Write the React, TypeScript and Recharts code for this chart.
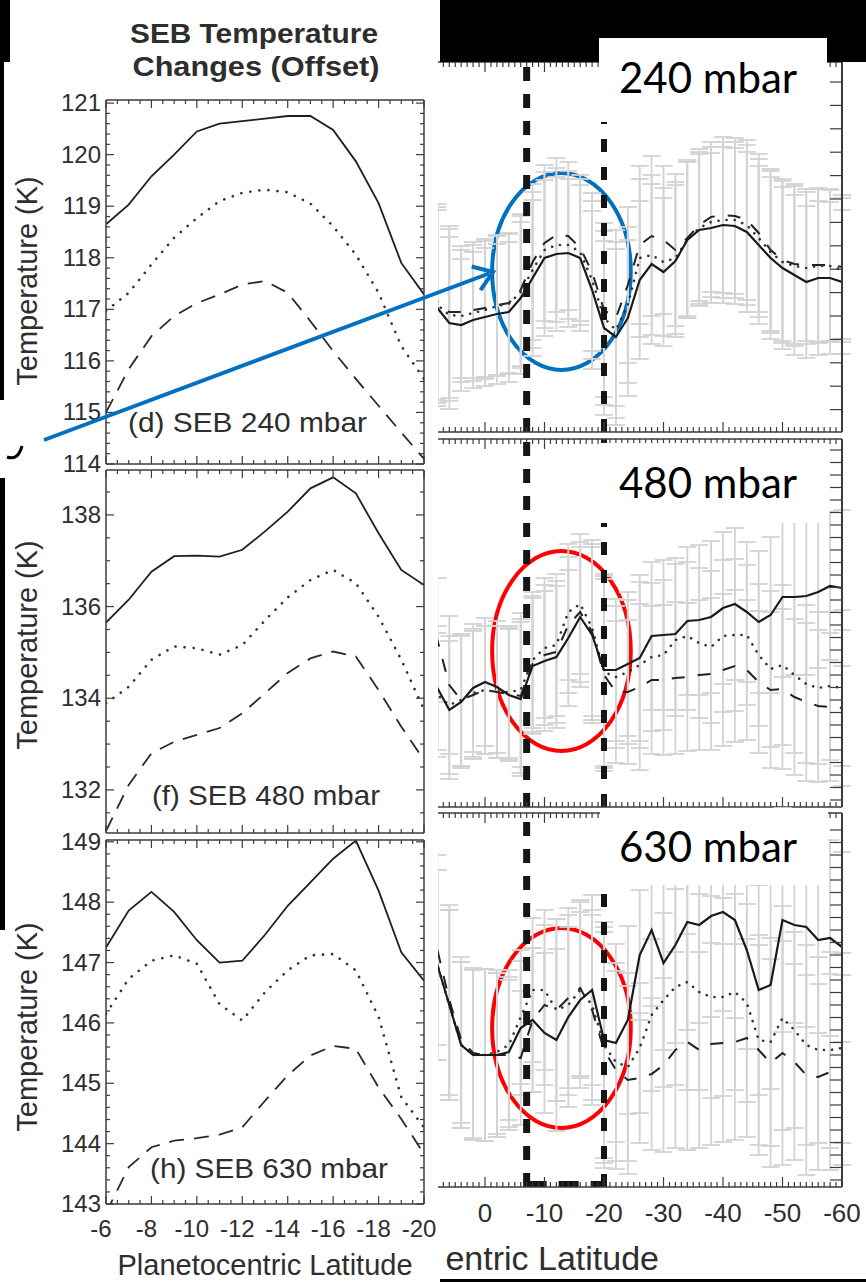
import React from 'react'
import { LineChart, Line, XAxis, YAxis, ErrorBar, ReferenceLine, ReferenceArea } from 'recharts'

// ---- left column: SEB temperature changes, latitude -6 .. -20 (1 deg steps)
const latLeft = [-6, -7, -8, -9, -10, -11, -12, -13, -14, -15, -16, -17, -18, -19, -20]

const d240Solid = [118.65, 119.03, 119.58, 120.0, 120.45, 120.6, 120.65, 120.7, 120.75, 120.75, 120.48, 119.87, 119.06, 117.9, 117.29]
const d240Dotted = [116.97, 117.32, 117.87, 118.39, 118.77, 119.1, 119.26, 119.32, 119.27, 119.05, 118.61, 118.06, 117.32, 116.29, 115.65]
const d240Dashed = [115.0, 115.84, 116.48, 116.87, 117.12, 117.29, 117.48, 117.55, 117.32, 116.77, 116.19, 115.65, 115.13, 114.61, 114.1]

const f480Solid = [135.65, 136.15, 136.76, 137.1, 137.11, 137.09, 137.24, 137.64, 138.07, 138.58, 138.82, 138.47, 137.6, 136.8, 136.47]
const f480Dotted = [133.89, 134.25, 134.84, 135.13, 135.09, 134.95, 135.16, 135.7, 136.2, 136.58, 136.8, 136.51, 135.78, 134.84, 133.75]
const f480Dashed = [131.1, 132.11, 132.8, 133.05, 133.2, 133.35, 133.67, 134.11, 134.55, 134.87, 135.02, 134.91, 134.18, 133.38, 132.65]

const h630Solid = [147.25, 147.86, 148.17, 147.84, 147.37, 147.0, 147.03, 147.46, 147.94, 148.33, 148.72, 149.02, 148.19, 147.17, 146.7]
const h630Dotted = [146.15, 146.73, 147.03, 147.12, 146.98, 146.31, 146.04, 146.51, 146.87, 147.12, 147.14, 146.87, 146.1, 144.77, 144.27]
const h630Dashed = [142.85, 143.61, 143.94, 144.05, 144.09, 144.15, 144.27, 144.71, 145.13, 145.46, 145.62, 145.57, 144.93, 144.41, 143.83]

// ---- right column: profiles from +10 to -60 (2 deg steps), err = 1-sigma bar
const latRight = [10, 8, 6, 4, 2, 0, -2, -4, -6, -8, -10, -12, -14, -16, -18, -20, -22, -24, -26, -28, -30, -32, -34, -36, -38, -40, -42, -44, -46, -48, -50, -52, -54, -56, -58, -60]

const r240Solid = [111.85, 111.7, 110.95, 110.85, 111.1, 111.25, 111.4, 111.5, 112.2, 113.2, 114.2, 114.4, 114.45, 114.2, 112.6, 110.7, 110.25, 111.2, 113.1, 113.9, 113.5, 114.05, 115.1, 115.6, 115.7, 115.85, 115.8, 115.5, 114.85, 114.2, 113.7, 113.35, 113.0, 113.2, 113.2, 113.0]
const r240Dashed = [112.1, 112.0, 111.5, 111.5, 111.6, 111.7, 111.85, 111.95, 112.6, 114.0, 114.95, 115.35, 115.3, 114.7, 113.5, 111.6, 111.2, 112.85, 114.85, 115.3, 115.1, 114.6, 115.2, 115.85, 116.25, 116.35, 116.3, 116.1, 115.45, 114.6, 114.1, 113.9, 113.85, 113.85, 113.85, 113.75]
const r240Dotted = [111.85, 111.85, 111.35, 111.3, 111.45, 111.6, 111.8, 111.9, 112.5, 113.6, 114.6, 114.85, 114.85, 114.5, 113.1, 111.2, 110.6, 111.85, 114.2, 114.35, 114.0, 114.2, 115.1, 115.7, 116.0, 116.1, 116.1, 115.85, 115.2, 114.5, 114.0, 113.8, 113.7, 113.8, 113.8, 113.6]
const r240Err = [4.95, 4.9, 4.3, 3.3, 3.4, 3.45, 3.5, 3.5, 3.8, 3.9, 3.9, 3.85, 3.7, 3.65, 3.95, 4.35, 4.4, 3.9, 3.95, 4.0, 3.7, 3.8, 3.9, 3.8, 3.75, 3.9, 3.9, 4.0, 3.95, 4.05, 4.05, 4.0, 3.8, 3.85, 3.8, 3.6]

const r480Solid = [129.95, 129.55, 128.45, 128.85, 129.55, 129.85, 129.6, 129.2, 129.0, 130.65, 130.9, 131.1, 132.05, 133.1, 132.2, 130.45, 130.45, 130.75, 131.05, 132.15, 132.2, 132.25, 132.9, 132.95, 133.1, 133.55, 133.75, 133.35, 132.85, 133.2, 134.1, 134.1, 134.15, 134.35, 134.65, 134.55]
const r480Dashed = [133.45, 131.95, 129.7, 128.95, 129.2, 129.45, 129.35, 129.25, 129.15, 130.75, 131.2, 131.35, 132.7, 133.35, 132.35, 130.2, 129.35, 129.35, 129.6, 129.95, 129.95, 130.05, 130.1, 130.2, 130.25, 130.45, 130.65, 130.45, 129.85, 129.45, 129.5, 129.1, 128.85, 128.65, 128.6, 128.55]
const r480Dotted = [129.45, 129.2, 128.7, 128.95, 129.3, 129.45, 129.35, 129.35, 129.45, 130.95, 131.55, 131.7, 133.35, 133.75, 132.55, 130.35, 130.1, 130.35, 130.7, 131.1, 131.2, 131.95, 132.15, 131.8, 131.6, 132.15, 132.2, 132.2, 131.2, 130.5, 130.7, 130.2, 129.75, 129.55, 129.65, 129.55]
const r480Err = [2.5, 3.1, 3.45, 3.3, 3.2, 3.2, 3.3, 3.3, 3.85, 3.4, 3.5, 3.55, 3.4, 3.5, 4.4, 4.8, 3.55, 3.6, 4.15, 3.7, 3.75, 3.8, 3.7, 3.75, 3.8, 3.8, 3.8, 3.5, 3.55, 3.9, 4.0, 3.9, 3.95, 3.8, 3.7, 3.9]

const r630Solid = [146.15, 144.4, 142.4, 140.4, 139.9, 139.9, 139.9, 140.05, 141.25, 141.65, 141.0, 140.65, 141.8, 142.65, 143.15, 140.65, 140.5, 141.65, 144.9, 146.15, 144.5, 145.4, 146.55, 146.4, 146.85, 147.05, 146.65, 145.15, 143.15, 143.4, 146.65, 146.4, 146.3, 145.65, 145.75, 145.3]
const r630Dashed = [147.65, 145.15, 142.65, 140.65, 140.0, 139.9, 139.9, 139.9, 139.75, 141.65, 142.4, 142.15, 142.75, 143.25, 142.15, 140.15, 139.15, 138.65, 138.75, 138.95, 139.4, 140.15, 140.55, 140.15, 140.45, 140.5, 140.55, 140.75, 140.15, 139.5, 140.0, 139.55, 138.9, 138.8, 139.05, 139.15]
const r630Dotted = [146.15, 144.4, 142.4, 140.4, 139.9, 139.9, 140.05, 140.4, 141.8, 143.15, 143.15, 142.15, 142.4, 143.15, 142.4, 140.4, 139.55, 139.3, 140.25, 141.9, 142.65, 143.3, 143.55, 143.05, 142.8, 142.8, 143.05, 142.5, 140.65, 140.55, 141.75, 141.15, 140.4, 140.15, 140.15, 140.25]
const r630Err = [4.25, 4.75, 4.75, 4.15, 4.25, 4.3, 4.1, 3.75, 3.35, 3.6, 4.0, 4.55, 4.5, 4.4, 4.75, 5.9, 4.95, 4.7, 3.25, 3.8, 4.35, 4.9, 5.4, 4.9, 5.05, 4.95, 4.9, 4.95, 5.25, 5.2, 5.6, 4.9, 5.0, 4.65, 4.9, 4.75]

// tick labels
const xMajorLeft = [-6, -8, -10, -12, -14, -16, -18, -20]
const xMajorRight = [10, 0, -10, -20, -30, -40, -50, -60]
const xLabelRight = [0, -10, -20, -30, -40, -50, -60] // the "10" sits under the pasted left figure
const yMajorD = [114, 115, 116, 117, 118, 119, 120, 121]
const yMajorF = [132, 134, 136, 138]
const yMajorH = [143, 144, 145, 146, 147, 148, 149]

// annotations (data coords)
const SEB_EDGES = [-7, -20]
const RING_LAT: [number, number] = [-1.2, -24.5]

const W = 866
const H = 1282
const INK = '#2e2e2e'
const AXIS = '#3c3c3c'
const BAR = '#d3d3d3'
const FONT = '"Liberation Sans", Arial, Helvetica, sans-serif'

const steps = (from: number, to: number, step: number) => {
  const out: number[] = []
  const n = Math.round((to - from) / step)
  for (let i = 0; i <= n; i++) out.push(Math.round((from + i * step) * 1000) / 1000)
  return out
}

const has = (list: number[], v: number) => list.some((m) => Math.abs(m - v) < 1e-6)

type TickSpec = {
  side: 'bottom' | 'top' | 'left' | 'right'
  majors: number[]
  majorLen: number
  minorLen: number
  labels?: number[]
  size?: number
  dx?: number
  dy?: number
}

function makeTick(spec: TickSpec) {
  return (props: any) => {
    const { x, y, payload } = props
    const v = payload.value
    const len = has(spec.majors, v) ? spec.majorLen : spec.minorLen
    const ends: Record<string, number[]> = {
      bottom: [x, y - len],
      top: [x, y + len],
      left: [x + len, y],
      right: [x - len, y],
    }
    const e = ends[spec.side]
    return (
      <g>
        <line x1={x} y1={y} x2={e[0]} y2={e[1]} stroke={AXIS} strokeWidth={1.2} />
        {spec.labels && has(spec.labels, v) ? (
          <text
            x={x + (spec.dx || 0)}
            y={y + (spec.dy || 0)}
            textAnchor={spec.side === 'left' ? 'end' : 'middle'}
            fontSize={spec.size}
            fontFamily={FONT}
            fill={INK}
          >
            {String(v)}
          </text>
        ) : null}
      </g>
    )
  }
}

const axisLine = { stroke: AXIS, strokeWidth: 1.5 }
const tickBase = { tickLine: false, tickSize: 0, tickMargin: 0, interval: 0 as const }

const leftRows = (solid: number[], dotted: number[], dashed: number[]) =>
  latLeft.map((lat, i) => ({ lat, solid: solid[i], dotted: dotted[i], dashed: dashed[i] }))

const rightRows = (solid: number[], dotted: number[], dashed: number[], err: number[]) =>
  latRight.map((lat, i) => ({ lat, solid: solid[i], dotted: dotted[i], dashed: dashed[i], err: err[i] }))

type LeftProps = {
  rows: any[]
  top: number
  bottom: number
  domain: [number, number]
  yMajor: number[]
  yMinor: number[]
  xLabels?: boolean
}

// every axis is 1px thick, margins are set so the plot box lands on the figure's frame
function LeftPanel({ rows, top, bottom, domain, yMajor, yMinor, xLabels }: LeftProps) {
  const xMinor = steps(-20, -6, 0.5)
  return (
    <div style={{ position: 'absolute', left: 0, top: 0 }}>
      <LineChart width={W} height={H} data={rows} margin={{ top: top - 1, bottom: H - bottom - 1, left: 105, right: W - 425 }}>
        <XAxis
          dataKey="lat"
          type="number"
          domain={[-20, -6]}
          reversed
          allowDataOverflow
          height={1}
          ticks={xMinor}
          axisLine={axisLine}
          {...tickBase}
          tick={makeTick({ side: 'bottom', majors: xMajorLeft, majorLen: 8, minorLen: 4, labels: xLabels ? xMajorLeft : undefined, size: 24, dx: -5, dy: 33 })}
        />
        <XAxis
          xAxisId="top"
          dataKey="lat"
          orientation="top"
          type="number"
          domain={[-20, -6]}
          reversed
          allowDataOverflow
          height={1}
          ticks={xMinor}
          axisLine={axisLine}
          {...tickBase}
          tick={makeTick({ side: 'top', majors: xMajorLeft, majorLen: 8, minorLen: 4 })}
        />
        <YAxis
          type="number"
          domain={domain}
          allowDataOverflow
          width={1}
          ticks={yMinor}
          axisLine={axisLine}
          {...tickBase}
          tick={makeTick({ side: 'left', majors: yMajor, majorLen: 8, minorLen: 4, labels: yMajor, size: 24, dx: -5, dy: 8 })}
        />
        <YAxis
          yAxisId="r"
          orientation="right"
          type="number"
          domain={domain}
          allowDataOverflow
          width={1}
          ticks={yMinor}
          axisLine={axisLine}
          {...tickBase}
          tick={makeTick({ side: 'right', majors: yMajor, majorLen: 8, minorLen: 4 })}
        />
        <Line dataKey="solid" stroke="#1f1f1f" strokeWidth={1.8} dot={false} activeDot={false} isAnimationActive={false} />
        <Line dataKey="dotted" stroke="#333" strokeWidth={2.6} strokeDasharray="0.1 9" strokeLinecap="round" dot={false} activeDot={false} isAnimationActive={false} />
        <Line dataKey="dashed" stroke="#2a2a2a" strokeWidth={1.8} strokeDasharray="15 10" dot={false} activeDot={false} isAnimationActive={false} />
      </LineChart>
    </div>
  )
}

type RightProps = {
  rows: any[]
  top: number
  bottom: number
  domain: [number, number]
  yTicks: number[]
  ring: [number, number]
  ringColor: string
  xLabels?: boolean
  base?: boolean
}

function RightPanel({ rows, top, bottom, domain, yTicks, ring, ringColor, xLabels, base }: RightProps) {
  const xMinor = steps(-60, 10, 1)
  const ellipse = (p: any) => (
    <ellipse
      cx={p.x + p.width / 2}
      cy={p.y + p.height / 2}
      rx={Math.abs(p.width) / 2}
      ry={Math.abs(p.height) / 2}
      fill="none"
      stroke={ringColor}
      strokeWidth={4}
    />
  )
  const hidden = { stroke: 'none', dot: false, activeDot: false, isAnimationActive: false } as const
  const bar = <ErrorBar dataKey="err" width={9} stroke={BAR} strokeWidth={1.8} />
  return (
    <div style={{ position: 'absolute', left: 0, top: 0 }}>
      <LineChart width={W} height={H} data={rows} margin={{ top: top - 1, bottom: H - bottom - 1, left: 425.5, right: 23 }}>
        <XAxis
          dataKey="lat"
          type="number"
          domain={[-60, 10]}
          reversed
          allowDataOverflow
          height={1}
          ticks={xMinor}
          axisLine={axisLine}
          {...tickBase}
          tick={makeTick({ side: 'bottom', majors: xMajorRight, majorLen: 10, minorLen: 5, labels: xLabels ? xLabelRight : undefined, size: 26, dy: 35 })}
        />
        <XAxis
          xAxisId="top"
          dataKey="lat"
          orientation="top"
          type="number"
          domain={[-60, 10]}
          reversed
          allowDataOverflow
          height={1}
          ticks={xMinor}
          axisLine={axisLine}
          {...tickBase}
          tick={makeTick({ side: 'top', majors: xMajorRight, majorLen: 10, minorLen: 5 })}
        />
        <YAxis
          orientation="right"
          type="number"
          domain={domain}
          allowDataOverflow
          width={1}
          ticks={yTicks}
          axisLine={{ stroke: AXIS, strokeWidth: 2 }}
          {...tickBase}
          tick={makeTick({ side: 'right', majors: yTicks, majorLen: 12, minorLen: 12 })}
        />
        <Line dataKey="solid" {...hidden}>{bar}</Line>
        <Line dataKey="dashed" {...hidden}>{bar}</Line>
        <Line dataKey="dotted" {...hidden}>{bar}</Line>
        <Line dataKey="dashed" stroke="#222" strokeWidth={2} strokeDasharray="13 13" dot={false} activeDot={false} isAnimationActive={false} />
        <Line dataKey="dotted" stroke="#333" strokeWidth={2.6} strokeDasharray="0.1 8" strokeLinecap="round" dot={false} activeDot={false} isAnimationActive={false} />
        <Line dataKey="solid" stroke="#1a1a1a" strokeWidth={2.2} dot={false} activeDot={false} isAnimationActive={false} />
        <ReferenceLine x={SEB_EDGES[0]} stroke="#151515" strokeWidth={7} strokeDasharray="14 13" />
        <ReferenceLine x={SEB_EDGES[1]} stroke="#151515" strokeWidth={6} strokeDasharray="13 15" />
        {base ? (
          <ReferenceLine
            segment={[
              { x: SEB_EDGES[0], y: domain[0] + 0.15 },
              { x: SEB_EDGES[1], y: domain[0] + 0.15 },
            ]}
            stroke="#151515"
            strokeWidth={6}
            strokeDasharray="20 12"
          />
        ) : null}
        <ReferenceArea x1={RING_LAT[0]} x2={RING_LAT[1]} y1={ring[0]} y2={ring[1]} shape={ellipse} />
      </LineChart>
    </div>
  )
}

const labelBox = (x: number, y: number, w: number, h: number, text: string, baseline: number) => (
  <g>
    <rect x={x} y={y} width={w} height={h} fill="#fff" />
    <text x={619} y={baseline} fontSize={42} fontFamily="Lato, 'Open Sans', sans-serif" fill="#000">
      {text}
    </text>
  </g>
)

export default function App() {
  return (
    <div style={{ position: 'relative', width: W, height: H, overflow: 'hidden', background: '#fff' }}>
      <style>{'body{margin:0}'}</style>

      <RightPanel
        rows={rightRows(r240Solid, r240Dotted, r240Dashed, r240Err)}
        top={62}
        bottom={432}
        domain={[105.5, 124]}
        yTicks={steps(106.62, 123, 1.17)}
        ring={[108.6, 118.45]}
        ringColor="#0070c0"
      />
      <RightPanel
        rows={rightRows(r480Solid, r480Dotted, r480Dashed, r480Err)}
        top={439}
        bottom={807}
        domain={[123.6, 142]}
        yTicks={steps(123.95, 141.45, 0.625)}
        ring={[126.4, 136.4]}
        ringColor="#ff0000"
      />
      <RightPanel
        rows={rightRows(r630Solid, r630Dotted, r630Dashed, r630Err)}
        top={813}
        bottom={1187}
        domain={[133.3, 152]}
        yTicks={steps(133.65, 151.15, 0.625)}
        ring={[136.25, 146.25]}
        ringColor="#ff0000"
        xLabels
        base
      />

      <div style={{ position: 'absolute', left: 0, top: 0, width: 438, height: H, background: '#fff' }} />

      <LeftPanel
        rows={leftRows(d240Solid, d240Dotted, d240Dashed)}
        top={100}
        bottom={464}
        domain={[114, 121.06]}
        yMajor={yMajorD}
        yMinor={steps(114, 121, 0.2)}
      />
      <LeftPanel
        rows={leftRows(f480Solid, f480Dotted, f480Dashed)}
        top={470}
        bottom={833}
        domain={[131.06, 138.98]}
        yMajor={yMajorF}
        yMinor={steps(131.5, 138.5, 0.5)}
      />
      <LeftPanel
        rows={leftRows(h630Solid, h630Dotted, h630Dashed)}
        top={840}
        bottom={1204}
        domain={[143, 149.03]}
        yMajor={yMajorH}
        yMinor={steps(143, 149, 0.2)}
        xLabels
      />

      <svg width={W} height={H} style={{ position: 'absolute', left: 0, top: 0 }}>
        {/* frame pieces around the collage */}
        <rect x={440} y={0} width={426} height={62} fill="#000" />
        <rect x={0} y={0} width={10} height={62} fill="#000" />
        <rect x={0} y={62} width={4} height={338} fill="#000" />
        <rect x={0} y={478} width={5} height={452} fill="#000" />
        <path d="M7 457 Q18 461 22 446" fill="none" stroke="#000" strokeWidth={3} />
        <rect x={440} y={1279} width={426} height={3} fill="#000" />

        {labelBox(599, 38, 228, 84, '240 mbar', 93)}
        {labelBox(600, 443, 229, 80, '480 mbar', 498)}
        {labelBox(600, 808, 228, 77, '630 mbar', 862)}

        <g fontFamily={FONT} fill={INK}>
          {/* visible remainder of the right figure's axis title */}
          <text x={659} y={1270} textAnchor="end" fontSize={34}>
            entric Latitude
          </text>
          <text x={254} y={43} textAnchor="middle" fontSize={27} fontWeight="bold" textLength={248} lengthAdjust="spacingAndGlyphs">
            SEB Temperature
          </text>
          <text x={256} y={76} textAnchor="middle" fontSize={27} fontWeight="bold" textLength={247} lengthAdjust="spacingAndGlyphs">
            Changes (Offset)
          </text>
          <text x={128} y={432} fontSize={28} textLength={239} lengthAdjust="spacingAndGlyphs">
            (d) SEB 240 mbar
          </text>
          <text x={152} y={805} fontSize={28} textLength={228} lengthAdjust="spacingAndGlyphs">
            (f) SEB 480 mbar
          </text>
          <text x={150} y={1178} fontSize={28} textLength={238} lengthAdjust="spacingAndGlyphs">
            (h) SEB 630 mbar
          </text>
          {[281, 645, 1027].map((cy) => (
            <text key={cy} x={37} y={cy} transform={`rotate(-90 37 ${cy})`} textAnchor="middle" fontSize={29}>
              Temperature (K)
            </text>
          ))}
          <text x={265} y={1275} textAnchor="middle" fontSize={29}>
            Planetocentric Latitude
          </text>
        </g>

        {/* arrow pointing at the circled 240 mbar feature */}
        <line x1={44} y1={440} x2={489} y2={273.5} stroke="#0070c0" strokeWidth={4} />
        <polyline points="471.7,266.5 493,272 480.5,290.2" fill="none" stroke="#0070c0" strokeWidth={4} />
      </svg>
    </div>
  )
}
